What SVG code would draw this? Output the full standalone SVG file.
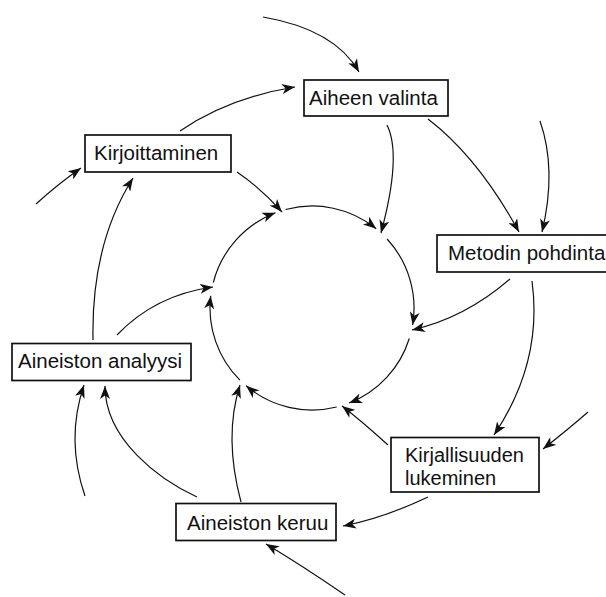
<svg xmlns="http://www.w3.org/2000/svg" width="606" height="597" viewBox="0 0 606 597">
<style>
.box{fill:#fff;stroke:#111;stroke-width:1.7}
.lbl{font-family:"Liberation Sans",Arial,sans-serif;font-size:20.5px;fill:#111}
.lbl2{font-family:"Liberation Sans",Arial,sans-serif;font-size:20px;fill:#111}
.c{fill:none;stroke:#111;stroke-width:1.2}
</style>
<defs>
<marker id="ah" markerUnits="userSpaceOnUse" markerWidth="14" markerHeight="10" refX="13" refY="5" orient="auto" viewBox="0 0 14 10">
<path d="M0,0 L13,5 L0,10 L3.5,5 Z" fill="#111"/>
</marker>
</defs>
<rect width="606" height="597" fill="#fff"/>
<g id="connectors" class="c" marker-end="url(#ah)">
<path d="M285.6,209.5 A102,102 0 0 1 376.2,228.7"/>
<path d="M387.1,239 A102,102 0 0 1 412.6,325"/>
<path d="M409.3,338.5 A102,102 0 0 1 349.1,403"/>
<path d="M336.7,407 A102,102 0 0 1 246.1,385.8"/>
<path d="M239.9,380.1 A102,102 0 0 1 210.7,295.9"/>
<path d="M213.3,282.5 A102,102 0 0 1 275.4,212.8"/>
<path d="M263,17 Q335,29.5 359,72"/>
<path d="M180,131 Q229,97.6 295,87"/>
<path d="M387,125 Q402,155 381,233"/>
<path d="M428,119 Q478.5,157.8 519,232"/>
<path d="M540,121 Q557,169.5 542,232"/>
<path d="M237,172 Q260.5,188 282,212"/>
<path d="M36,204 Q58,184 81,168"/>
<path d="M93,340 C92,290 100,230 133,178"/>
<path d="M117,335 Q155,295 213,287"/>
<path d="M85,496 Q65.5,439.5 84,385"/>
<path d="M197,497 C160,480 105,440 105,386"/>
<path d="M241,502 Q223.5,436.5 240,385"/>
<path d="M345,595 Q300.5,564.5 266,544"/>
<path d="M428,497 Q382.5,518.5 343,526"/>
<path d="M388,445 Q361,420.5 342,406"/>
<path d="M588,412 Q568,429.5 543,449"/>
<path d="M532,281 Q543,362 494,435"/>
<path d="M510,279 Q465,318 412,330"/>
</g>
<g id="aiheen-valinta">
<rect class="box" x="304" y="80" width="144" height="36"/>
<text class="lbl" x="309" y="104.5">Aiheen valinta</text>
</g>
<g id="metodin-pohdinta">
<rect class="box" x="437" y="235" width="175" height="37"/>
<text class="lbl" x="448" y="259.5">Metodin pohdinta</text>
</g>
<g id="kirjallisuuden-lukeminen">
<rect class="box" x="391" y="437.5" width="148" height="54.5"/>
<text class="lbl2" x="405" y="461.8"><tspan x="405" y="461.8">Kirjallisuuden</tspan><tspan x="405" y="484.6">lukeminen</tspan></text>
</g>
<g id="aineiston-keruu">
<rect class="box" x="176" y="503.5" width="160" height="37"/>
<text class="lbl" x="187" y="529.5">Aineiston keruu</text>
</g>
<g id="aineiston-analyysi">
<rect class="box" x="12" y="343.5" width="179" height="37"/>
<text class="lbl" x="18" y="367.5">Aineiston analyysi</text>
</g>
<g id="kirjoittaminen">
<rect class="box" x="85" y="135" width="146" height="37"/>
<text class="lbl" x="94" y="159.5">Kirjoittaminen</text>
</g>
</svg>
